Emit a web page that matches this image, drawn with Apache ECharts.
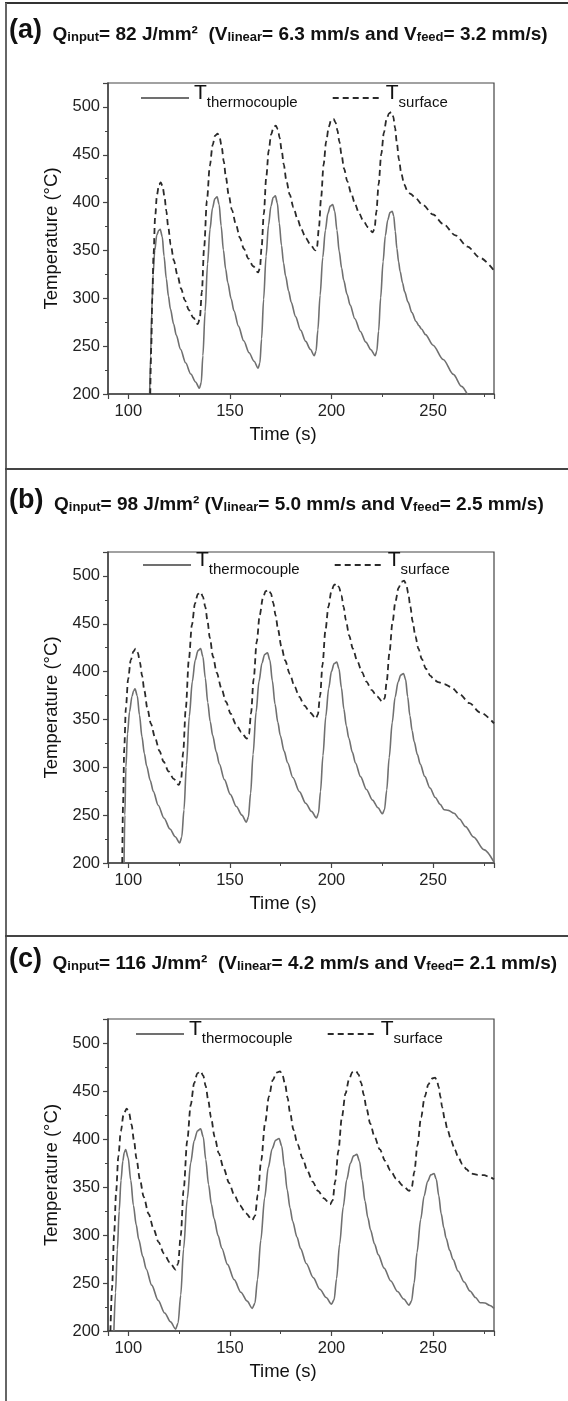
<!DOCTYPE html>
<html>
<head>
<meta charset="utf-8">
<script src="https://cdn.jsdelivr.net/npm/echarts@6/dist/echarts.min.js"></script>
<style>
  html, body { margin: 0; padding: 0; background: #fff; }
  #chart { width: 568px; height: 1401px; }
</style>
</head>
<body>
<div id="chart"></div>
<script>
// panel titles
var panelLetters = ['(a)', '(b)', '(c)'];
var qInput = ['82', '98', '116'];
var vLinear = ['6.3', '5.0', '4.2'];
var vFeed = ['3.2', '2.5', '2.1'];

// panel (a): [time (s), temperature (C)]
var aThermo = [
  [110.5, 200], [111, 240], [111.5, 285], [112.2, 325], [113, 350], [114, 366], [115, 371], [115.7, 372],
  [116.7, 364.5], [117.6, 343.8], [118.7, 320.5], [119.75, 302.3], [120.7, 289], [122.3, 273.2], [123.6, 261.6],
  [125.7, 246.7], [128.2, 232.6], [130.75, 220.9], [133.1, 212.6], [135, 206],
  [135.9, 212], [136.7, 240], [137.8, 286], [139, 336], [140.2, 372], [141.4, 394], [142.6, 404], [143.7, 406],
  [144.7, 398], [145.7, 375.6], [146.8, 350.5], [147.9, 330.8], [148.95, 316.5], [150.6, 299.5], [152, 287],
  [154.2, 270.9], [156.8, 255.6], [159.45, 243.1], [161.9, 234.2], [163.9, 227],
  [164.75, 232.4], [165.6, 257.6], [166.6, 299], [167.8, 344], [169, 376.4], [170.2, 396.2], [171.3, 405.2], [172.4, 407],
  [173.35, 399.5], [174.3, 378.6], [175.4, 355.2], [176.4, 336.9], [177.4, 323.5], [178.9, 307.6], [180.2, 295.9],
  [182.3, 280.9], [184.8, 266.7], [187.3, 255], [189.6, 246.7], [191.5, 240],
  [192.4, 244.7], [193.3, 266.9], [194.4, 303.2], [195.7, 342.7], [197, 371.1], [198.2, 388.5], [199.4, 396.4], [200.6, 398],
  [201.6, 390.9], [202.7, 371.1], [203.8, 349], [205, 331.6], [206, 319], [207.7, 304], [209.2, 292.9],
  [211.5, 278.7], [214.2, 265.3], [216.9, 254.2], [219.4, 246.3], [221.5, 240],
  [222.3, 244.5], [223.2, 265.7], [224.2, 300.4], [225.4, 338.2], [226.5, 365.3], [227.7, 381.9], [228.8, 389.5], [229.9, 391],
  [230.65, 386], [231.4, 370], [232.2, 352], [233.05, 338], [233.8, 328], [235, 316], [236, 307], [237.7, 296],
  [239.6, 285], [241.6, 276], [243, 271.5], [244.3, 268], [246.3, 262], [250, 251], [255, 236], [260, 220.5],
  [264, 208], [267, 199]
];
var aSurface = [
  [110.8, 200], [111.3, 250], [111.8, 300], [112.4, 345], [113.2, 385], [114.1, 408], [115.1, 419], [116, 421],
  [116.9, 416.6], [117.8, 406.2], [118.7, 391.4], [119.6, 375.1], [120.9, 355.9], [122.4, 339.6], [124.2, 324.1],
  [126, 310], [127.8, 298.2], [129.8, 287.8], [132, 279.7], [134.2, 273],
  [135.2, 279], [136.2, 306.8], [137.3, 352.6], [138.7, 402.4], [140.1, 438.2], [141.5, 460.1], [142.7, 470], [144, 472],
  [145, 467.7], [146, 457.5], [147, 443], [148, 427], [149.4, 408.2], [151, 392.3], [153, 377],
  [154.9, 363.3], [156.9, 351.7], [159.1, 341.5], [161.5, 333.5], [163.9, 327],
  [164.8, 331.6], [165.6, 353.1], [166.7, 388.4], [167.9, 426.8], [169.1, 454.4], [170.3, 471.3], [171.5, 478.9], [172.6, 480.5],
  [173.6, 476.6], [174.5, 467.5], [175.5, 454.4], [176.5, 440], [177.8, 423.1], [179.4, 408.7], [181.3, 395],
  [183.3, 382.6], [185.2, 372.2], [187.3, 363.1], [189.7, 355.9], [192, 350],
  [192.9, 354.1], [193.8, 373.4], [194.9, 405], [196.1, 439.4], [197.4, 464.1], [198.7, 479.3], [199.8, 486.1], [201, 487.5],
  [202, 483.9], [202.9, 475.7], [203.9, 463.8], [204.9, 450.8], [206.2, 435.4], [207.8, 422.3], [209.7, 409.9],
  [211.6, 398.6], [213.5, 389.1], [215.7, 380.9], [218, 374.3], [220.3, 369],
  [221.2, 372.8], [222.1, 390.3], [223.2, 419.2], [224.5, 450.6], [225.8, 473.2], [227.1, 487], [228.3, 493.2], [229.5, 494.5],
  [230.4, 490], [231.3, 478], [232.2, 462], [233.2, 445], [234.4, 430], [235.8, 419], [237.3, 412.5], [239, 409],
  [241, 405.5], [245, 397.5], [250, 387.6], [255, 377.7], [261, 365.8], [267, 354], [273, 342.5], [280, 329]
];

// panel (b)
var bThermo = [
  [97.9, 200], [98.3, 250], [98.8, 300], [99.6, 335], [100.6, 358], [101.8, 374], [102.6, 380], [103.3, 382],
  [104.4, 374.8], [105.5, 354.6], [106.7, 332.1], [107.9, 314.4], [109, 301.5], [110.8, 286.2], [112.3, 274.9],
  [114.7, 260.4], [117.6, 246.8], [120.5, 235.5], [123.1, 227.4], [125.3, 221],
  [126.3, 227.1], [127.4, 255.5], [128.6, 302.2], [130, 353], [131.5, 389.5], [132.9, 411.8], [134.3, 422], [135.6, 424],
  [136.7, 415.8], [137.9, 393.2], [139.1, 367.8], [140.3, 347.9], [141.5, 333.4], [143.3, 316.1], [144.8, 303.4],
  [147.3, 287.1], [150.2, 271.7], [153.2, 259], [155.9, 250], [158.1, 242.7],
  [159.1, 248], [160.2, 272.8], [161.4, 313.5], [162.9, 357.7], [164.3, 389.5], [165.8, 409], [167.1, 417.8], [168.5, 419.6],
  [169.7, 411.8], [170.9, 390.3], [172.2, 366.1], [173.6, 347.1], [174.8, 333.3], [176.7, 316.9], [178.4, 304.8],
  [181, 289.3], [184.2, 274.6], [187.3, 262.5], [190.2, 253.9], [192.6, 247],
  [193.6, 251.9], [194.6, 274.7], [195.8, 312.2], [197.2, 353], [198.6, 382.3], [200, 400.2], [201.3, 408.4], [202.6, 410],
  [203.7, 402.9], [204.9, 383], [206.1, 360.8], [207.3, 343.4], [208.5, 330.7], [210.3, 315.6], [211.8, 304.5],
  [214.3, 290.3], [217.2, 276.8], [220.2, 265.7], [222.9, 257.7], [225.1, 251.4],
  [226.1, 255.8], [227.2, 276.3], [228.4, 310], [229.9, 346.7], [231.3, 373.1], [232.8, 389.2], [234.1, 396.5], [235.5, 398],
  [236.5, 391.6], [237.5, 373.8], [238.6, 353.9], [239.7, 338.2], [240.7, 326.8], [242.3, 313.3], [243.7, 303.3],
  [245.9, 290.5], [248.5, 278.4], [251.1, 268.4], [253.5, 261.3], [255.5, 255.6],
  [257.5, 255], [260.4, 252], [263, 246], [266, 238], [270, 227], [275, 214], [280, 201]
];
var bSurface = [
  [97, 200], [97.4, 260], [98, 320], [98.8, 362], [99.9, 392], [101.2, 412], [102.5, 421], [103.6, 424],
  [104.7, 419.7], [105.7, 409.8], [106.8, 395.5], [107.9, 379.9], [109.4, 361.3], [111.1, 345.7], [113.2, 330.7],
  [115.3, 317.2], [117.4, 305.8], [119.8, 295.8], [122.3, 288], [124.9, 281.6],
  [126, 287.6], [127, 315.8], [128.3, 362.2], [129.8, 412.5], [131.3, 448.8], [132.8, 470.9], [134.2, 481], [135.6, 483],
  [136.7, 478.4], [137.9, 467.7], [139, 452.4], [140.1, 435.6], [141.7, 415.7], [143.5, 398.9], [145.8, 382.8],
  [148.1, 368.3], [150.4, 356], [152.9, 345.3], [155.6, 336.9], [158.3, 330],
  [159.4, 334.7], [160.4, 356.5], [161.7, 392.3], [163.2, 431.2], [164.7, 459.2], [166.2, 476.4], [167.6, 484.1], [169, 485.7],
  [170.2, 481.7], [171.3, 472.2], [172.5, 458.8], [173.7, 443.9], [175.3, 426.4], [177.2, 411.6], [179.5, 397.5],
  [181.8, 384.7], [184.1, 373.9], [186.7, 364.5], [189.5, 357.1], [192.3, 351],
  [193.3, 355.2], [194.4, 375], [195.6, 407.4], [197, 442.7], [198.5, 468], [199.9, 483.5], [201.3, 490.6], [202.6, 492],
  [203.7, 488.3], [204.9, 479.7], [206, 467.3], [207.1, 453.7], [208.7, 437.7], [210.5, 424.1], [212.7, 411.1],
  [215, 399.4], [217.2, 389.5], [219.7, 380.9], [222.4, 374.1], [225.1, 368.5],
  [226.2, 372.3], [227.2, 390], [228.5, 419.1], [230, 450.7], [231.5, 473.5], [233, 487.4], [234.4, 493.7], [235.8, 495],
  [236.8, 491], [237.8, 482], [238.8, 468], [240, 452], [241.3, 437], [242.8, 424], [244.5, 413], [246.5, 403],
  [248.7, 395.5], [250.8, 391], [252.5, 389], [255.5, 387], [258.8, 384], [263, 376.5], [268, 367], [273, 357.5], [280, 346]
];

// panel (c)
var cThermo = [
  [92.9, 200], [93.7, 240], [94.6, 285], [95.5, 325], [96.4, 357], [97.3, 377], [98, 386], [98.7, 389],
  [99.9, 380.6], [101.2, 357.2], [102.5, 331], [103.9, 310.5], [105.1, 295.5], [107.1, 277.7], [108.8, 264.6],
  [111.5, 247.8], [114.7, 231.9], [117.9, 218.8], [120.8, 209.5], [123.3, 202],
  [124.5, 208.3], [125.8, 237.4], [127.2, 285.4], [129, 337.5], [130.7, 375.1], [132.4, 398], [134, 408.4], [135.6, 410.5],
  [136.9, 402.1], [138.1, 378.7], [139.5, 352.6], [140.9, 332], [142.2, 317.1], [144.2, 299.3], [146, 286.2],
  [148.8, 269.4], [152.1, 253.5], [155.4, 240.4], [158.5, 231.1], [161, 223.6],
  [162.3, 228.9], [163.6, 253.7], [165.2, 294.4], [167.1, 338.6], [168.9, 370.4], [170.8, 389.9], [172.5, 398.7], [174.2, 400.5],
  [175.5, 392.7], [176.8, 371.2], [178.2, 347], [179.6, 328.1], [180.9, 314.3], [183, 297.9], [184.8, 285.8],
  [187.6, 270.3], [191, 255.6], [194.3, 243.5], [197.4, 234.9], [200, 228],
  [201.3, 232.7], [202.5, 254.5], [204, 290.4], [205.8, 329.4], [207.5, 357.5], [209.3, 374.6], [210.9, 382.4], [212.5, 384],
  [213.8, 376.9], [215.1, 357.3], [216.5, 335.3], [217.9, 318.1], [219.2, 305.5], [221.2, 290.6], [223, 279.6],
  [225.9, 265.5], [229.2, 252.1], [232.5, 241.1], [235.6, 233.3], [238.2, 227],
  [239.4, 231.1], [240.7, 250.3], [242.1, 281.8], [243.9, 316.1], [245.6, 340.7], [247.3, 355.8], [248.9, 362.6], [250.5, 364],
  [251.6, 358], [252.8, 341.1], [254, 322.3], [255.3, 307.5], [256.4, 296.8], [258.2, 284], [259.8, 274.6],
  [262.3, 262.5], [265.3, 251], [268.2, 241.6], [270.9, 234.9], [273.2, 229.5],
  [275.5, 229.2], [278, 226.5], [280, 223.6]
];
var cSurface = [
  [91.2, 200], [92, 245], [93, 300], [94, 345], [95.1, 382], [96.3, 408], [97.7, 426], [99.2, 431.7],
  [100.4, 426.7], [101.6, 414.9], [102.8, 398.2], [104, 379.7], [105.7, 357.9], [107.6, 339.5], [110, 321.9],
  [112.5, 305.9], [114.9, 292.5], [117.5, 280.8], [120.4, 271.5], [123.3, 264],
  [124.5, 270.2], [125.8, 299.1], [127.2, 346.6], [129, 398.2], [130.7, 435.4], [132.4, 458.1], [134, 468.4], [135.6, 470.5],
  [136.9, 465.9], [138.1, 455], [139.4, 439.5], [140.7, 422.5], [142.5, 402.3], [144.5, 385.3], [147, 369],
  [149.6, 354.3], [152.1, 341.9], [154.9, 331], [157.9, 322.5], [161, 315.5],
  [162.4, 320.2], [163.7, 341.9], [165.4, 377.5], [167.3, 416.3], [169.2, 444.2], [171.1, 461.2], [172.9, 469], [174.7, 470.5],
  [175.9, 466.3], [177.2, 456.7], [178.4, 442.8], [179.6, 427.6], [181.3, 409.6], [183.3, 394.3], [185.8, 379.8],
  [188.2, 366.6], [190.7, 355.5], [193.4, 345.9], [196.3, 338.2], [199.3, 332],
  [200.6, 336.2], [201.8, 355.6], [203.4, 387.6], [205.1, 422.4], [206.9, 447.4], [208.7, 462.7], [210.3, 469.6], [212, 471],
  [213.3, 467.3], [214.6, 458.5], [215.9, 446], [217.2, 432.3], [219.1, 416], [221.2, 402.3], [223.8, 389.1],
  [226.4, 377.3], [229, 367.3], [231.9, 358.5], [235.1, 351.6], [238.2, 346],
  [239.5, 349.5], [240.8, 366.1], [242.3, 393.2], [244.1, 422.7], [245.9, 443.9], [247.7, 456.9], [249.3, 462.8], [251, 464],
  [251.9, 461], [252.8, 454], [253.6, 444], [254.5, 433], [255.8, 420], [257.2, 409], [258.9, 398.5],
  [260.7, 389], [262.4, 381], [264.4, 374], [266.5, 368.5], [268.6, 364],
  [272, 362.6], [275.2, 362.4], [277.5, 360.5], [280, 358]
];

var thermoData = [aThermo, bThermo, cThermo];
var surfaceData = [aSurface, bSurface, cSurface];

var chart = echarts.init(document.getElementById('chart'), null, { renderer: 'canvas' });

var gridTops = [83, 552, 1019];
var gridHeights = [311, 311, 312];
var titleTops = [16, 486, 945];
var legendLefts = [140, 142, 135];
var legendTops = [71, 538, 1007];
var titleGaps = ['  ', ' ', '  '];
var fontFam = '"Liberation Sans", Arial, sans-serif';

var grids = [], xAxes = [], yAxes = [], series = [], titles = [], legends = [];

for (var i = 0; i < 3; i++) {
  grids.push({
    left: 108, top: gridTops[i], width: 386, height: gridHeights[i],
    show: true, borderColor: '#444', borderWidth: 1.2, backgroundColor: 'transparent'
  });
  xAxes.push({
    type: 'value', gridIndex: i, min: 90, max: 280, splitNumber: 4,
    axisLine: { onZero: false, lineStyle: { color: '#444', width: 1.5 } },
    axisTick: { length: 5, lineStyle: { color: '#444', width: 1.2 } },
    minorTick: { show: true, splitNumber: 2, length: 3, lineStyle: { color: '#444', width: 1 } },
    splitLine: { show: false },
    axisLabel: { fontSize: 16.5, color: '#222', margin: 9, fontFamily: fontFam, showMinLabel: false, showMaxLabel: false },
    name: 'Time (s)', nameLocation: 'middle', nameGap: 31,
    nameTextStyle: { fontSize: 18.5, color: '#111', fontFamily: fontFam, padding: [0, 36, 0, 0] }
  });
  yAxes.push({
    type: 'value', gridIndex: i, min: 200, max: 525, interval: 50,
    axisLine: { lineStyle: { color: '#444', width: 1.5 } },
    axisTick: { length: 5, lineStyle: { color: '#444', width: 1.2 } },
    minorTick: { show: true, splitNumber: 2, length: 3, lineStyle: { color: '#444', width: 1 } },
    splitLine: { show: false },
    axisLabel: { fontSize: 16.5, color: '#222', margin: 8, fontFamily: fontFam, showMaxLabel: false },
    name: 'Temperature (\u00B0C)', nameLocation: 'middle', nameGap: 46,
    nameTextStyle: { fontSize: 18.5, color: '#111', fontFamily: fontFam }
  });
  series.push({
    name: 'thermocouple', type: 'line', xAxisIndex: i, yAxisIndex: i,
    data: thermoData[i], showSymbol: false, symbol: 'none', smooth: 0.3, smoothMonotone: 'x', clip: true,
    lineStyle: { color: '#707070', width: 1.6 }, itemStyle: { color: '#707070' }
  });
  series.push({
    name: 'surface', type: 'line', xAxisIndex: i, yAxisIndex: i,
    data: surfaceData[i], showSymbol: false, symbol: 'none', smooth: 0.3, smoothMonotone: 'x', clip: true,
    lineStyle: { color: '#2a2a2a', width: 1.8, type: [6, 4] }, itemStyle: { color: '#2a2a2a' }
  });
  titles.push({
    left: 9, top: titleTops[i], padding: 0,
    text: '{p|' + panelLetters[i] + '}{m|  Q}{s|input}{m|= ' + qInput[i] + ' J/mm\u00B2' + titleGaps[i] + '(V}{s|linear}{m|= ' +
      vLinear[i] + ' mm/s and V}{s|feed}{m|= ' + vFeed[i] + ' mm/s)}',
    textStyle: {
      rich: {
        p: { fontSize: 27, fontWeight: 'bold', color: '#111', lineHeight: 28, verticalAlign: 'bottom', fontFamily: fontFam },
        m: { fontSize: 19, fontWeight: 'bold', color: '#111', lineHeight: 23, verticalAlign: 'bottom', fontFamily: fontFam },
        s: { fontSize: 13, fontWeight: 'bold', color: '#111', lineHeight: 13, verticalAlign: 'bottom', fontFamily: fontFam }
      }
    }
  });
  legends.push({
    left: legendLefts[i], top: legendTops[i], padding: 0, orient: 'horizontal',
    itemWidth: 48, itemHeight: 14, itemGap: 34, selectedMode: false,
    itemStyle: { opacity: 0 },
    data: ['thermocouple', 'surface'],
    formatter: function (name) { return '{t|T}{s|' + name + '}'; },
    textStyle: {
      rich: {
        t: { fontSize: 21, color: '#111', lineHeight: 24, padding: [12, 0, 6, 0], verticalAlign: 'bottom', fontFamily: fontFam },
        s: { fontSize: 15, color: '#111', lineHeight: 15, verticalAlign: 'bottom', fontFamily: fontFam }
      }
    }
  });
}

var option = {
  backgroundColor: '#fff',
  animation: false,
  title: titles,
  legend: legends,
  grid: grids,
  xAxis: xAxes,
  yAxis: yAxes,
  series: series,
  graphic: [
    { type: 'line', shape: { x1: 5, y1: 3, x2: 568, y2: 3 }, style: { stroke: '#333', lineWidth: 2 } },
    { type: 'line', shape: { x1: 6, y1: 3, x2: 6, y2: 1401 }, style: { stroke: '#666', lineWidth: 2 } },
    { type: 'line', shape: { x1: 5, y1: 469, x2: 568, y2: 469 }, style: { stroke: '#444', lineWidth: 2 } },
    { type: 'line', shape: { x1: 5, y1: 936, x2: 568, y2: 936 }, style: { stroke: '#444', lineWidth: 2 } }
  ]
};

chart.setOption(option);
</script>
</body>
</html>
